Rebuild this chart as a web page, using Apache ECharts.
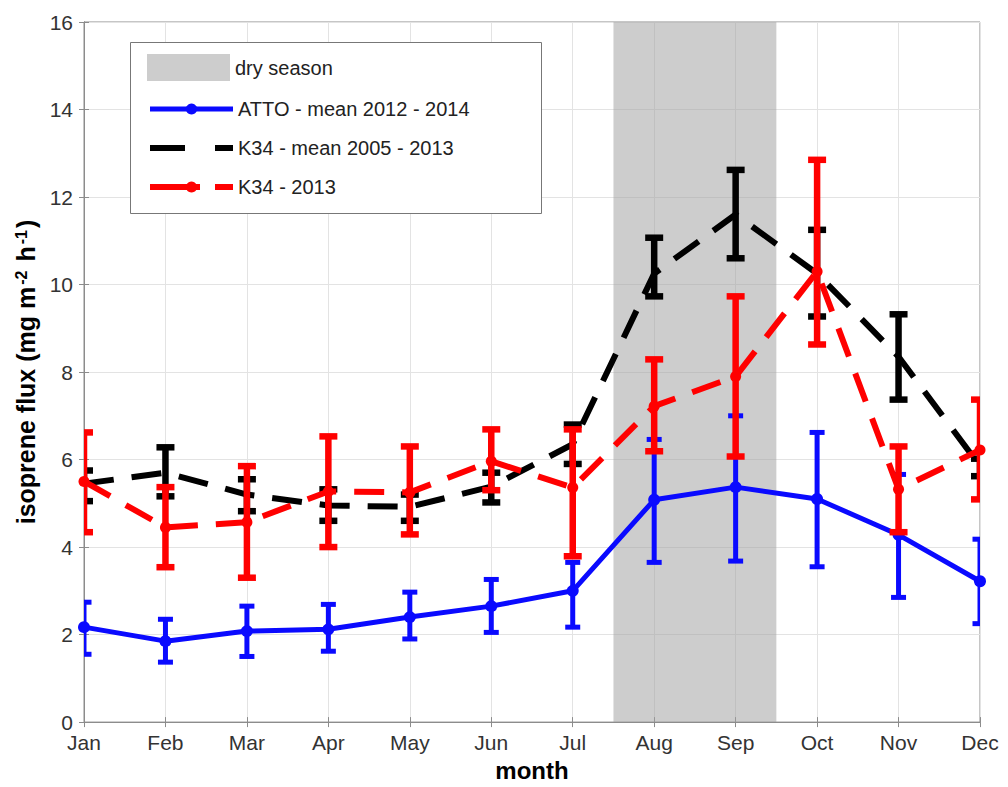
<!DOCTYPE html>
<html><head><meta charset="utf-8">
<script src="https://cdn.jsdelivr.net/npm/echarts@6/dist/echarts.min.js"></script>
<style>html,body{margin:0;padding:0;background:#fff}#c{width:1008px;height:787px}</style>
</head><body><div id="c"></div>
<script>
const months = ['Jan','Feb','Mar','Apr','May','Jun','Jul','Aug','Sep','Oct','Nov','Dec'];
const drySeason = [6.5, 8.5];

const attoMean = [2.17, 1.85, 2.08, 2.12, 2.40, 2.65, 3.00, 5.08, 5.37, 5.10, 4.28, 3.22];
const attoLow  = [1.55, 1.37, 1.50, 1.62, 1.90, 2.05, 2.17, 3.65, 3.68, 3.55, 2.85, 2.25];
const attoHigh = [2.74, 2.35, 2.65, 2.69, 2.97, 3.26, 3.65, 6.46, 7.00, 6.62, 5.66, 4.18];

const k34MeanVal  = [5.45, 5.70, 5.20, 4.95, 4.92, 5.38, 6.35, 10.25, 11.60, 10.25, 8.35, 5.85];
const k34MeanLow  = [5.05, 5.16, 4.82, 4.60, 4.60, 5.02, 5.90, 9.73, 10.60, 9.27, 7.37, 5.62];
const k34MeanHigh = [5.75, 6.28, 5.55, 5.32, 5.20, 5.70, 6.80, 11.07, 12.62, 11.25, 9.32, 6.02];

const k34y13Val  = [5.50, 4.45, 4.57, 5.27, 5.25, 5.96, 5.36, 7.22, 7.90, 10.30, 5.32, 6.22];
const k34y13Low  = [4.34, 3.54, 3.30, 4.00, 4.29, 5.30, 3.79, 6.19, 6.07, 8.63, 4.34, 5.09];
const k34y13High = [6.62, 5.37, 5.85, 6.53, 6.30, 6.69, 6.69, 8.29, 9.73, 12.85, 6.30, 7.37];

const names = {
  dry: 'dry season',
  atto: 'ATTO - mean 2012 - 2014',
  k34m: 'K34 - mean 2005 - 2013',
  k34y: 'K34 - 2013'
};

const toPts = arr => arr.map((v, i) => [i, v]);
const toErr = (lo, hi) => lo.map((v, i) => [i, v, hi[i]]);

function errSeries(id, lo, hi, color, width, capW, z) {
  return {
    type: 'custom', name: id, data: toErr(lo, hi), z: z, clip: true, silent: true,
    renderItem: function (params, api) {
      const x = api.value(0);
      const p1 = api.coord([x, api.value(1)]);
      const p2 = api.coord([x, api.value(2)]);
      const st = { stroke: color, lineWidth: width, fill: null };
      return { type: 'group', children: [
        { type: 'line', shape: { x1: p1[0], y1: p1[1], x2: p2[0], y2: p2[1] }, style: st },
        { type: 'line', shape: { x1: p1[0] - capW / 2, y1: p1[1], x2: p1[0] + capW / 2, y2: p1[1] }, style: st },
        { type: 'line', shape: { x1: p2[0] - capW / 2, y1: p2[1], x2: p2[0] + capW / 2, y2: p2[1] }, style: st }
      ]};
    }
  };
}

const chart = echarts.init(document.getElementById('c'), null, { renderer: 'svg' });
const axisGrey = '#8c8c8c';
const labelColor = '#333';
const font = 'Liberation Sans, Arial, Helvetica, sans-serif';
const BLUE = '#0a0aff', RED = '#ff0000', BLACK = '#000000';

const option = {
  animation: false,
  textStyle: { fontFamily: font },
  grid: { left: 84, right: 28, top: 22, bottom: 64, show: true, borderColor: axisGrey, borderWidth: 1 },
  xAxis: [{
    type: 'value', min: 0, max: 11, interval: 1,
    name: 'month', nameLocation: 'middle', nameGap: 34,
    nameTextStyle: { fontSize: 24, fontWeight: 'bold', color: '#000', fontFamily: font },
    axisLine: { show: true, lineStyle: { color: axisGrey } },
    axisTick: { show: true, inside: true, length: 5, lineStyle: { color: axisGrey } },
    axisLabel: { formatter: v => months[v], fontSize: 21, color: labelColor, margin: 10, fontFamily: font },
    splitLine: { show: true, lineStyle: { color: '#e3e3e3', width: 1 } }
  }, {
    type: 'value', min: 0, max: 11, interval: 1, position: 'top',
    axisLine: { show: true, lineStyle: { color: axisGrey } },
    axisTick: { show: true, inside: true, length: 5, lineStyle: { color: axisGrey } },
    axisLabel: { show: false }, splitLine: { show: false }
  }],
  yAxis: [{
    type: 'value', min: 0, max: 16, interval: 2,
    name: 'isoprene flux (mg m{sup|-2} h{sup|-1})', nameLocation: 'middle', nameGap: 35,
    nameTextStyle: { fontSize: 25, fontWeight: 'bold', color: '#000', fontFamily: font,
      rich: { sup: { fontSize: 16, fontWeight: 'bold', color: '#000', verticalAlign: 'top', fontFamily: font, padding: [0, 2, 10, 2] } } },
    axisLine: { show: true, lineStyle: { color: axisGrey } },
    axisTick: { show: true, inside: true, length: 5, lineStyle: { color: axisGrey } },
    axisLabel: { fontSize: 21, color: labelColor, margin: 11, fontFamily: font },
    splitLine: { show: true, lineStyle: { color: '#e3e3e3', width: 1 } }
  }, {
    type: 'value', min: 0, max: 16, interval: 2, position: 'right',
    axisLine: { show: true, lineStyle: { color: axisGrey } },
    axisTick: { show: true, inside: true, length: 5, lineStyle: { color: axisGrey } },
    axisLabel: { show: false }, splitLine: { show: false }
  }],
  graphic: [{
    type: 'rect', left: 130, top: 42, z: 10,
    shape: { width: 411, height: 171 },
    style: { fill: '#fff', stroke: '#777', lineWidth: 1 }
  }],
  legend: [{
    data: [{ name: names.dry, icon: 'rect' }],
    left: 142, top: 49, itemWidth: 83, itemHeight: 27, z: 11,
    selectedMode: false,
    textStyle: { fontSize: 20, color: '#222', fontFamily: font }
  }, {
    data: [
      { name: names.atto, lineStyle: { width: 5, type: 'solid', color: BLUE }, itemStyle: { color: BLUE } },
      { name: names.k34m, lineStyle: { width: 6, type: [35, 30], color: BLACK }, itemStyle: { color: BLACK, opacity: 0 } },
      { name: names.k34y, lineStyle: { width: 6, type: [50, 15], color: RED }, itemStyle: { color: RED } }
    ],
    orient: 'vertical', left: 142, top: 94, itemWidth: 83, itemHeight: 14, itemGap: 19, z: 11,
    selectedMode: false,
    textStyle: { fontSize: 20, color: '#222', fontFamily: font }
  }],
  series: [
    {
      type: 'custom', name: names.dry, data: [drySeason], z: 1, silent: true,
      itemStyle: { color: 'rgba(160,160,160,0.52)' },
      renderItem: function (params, api) {
        const a = api.coord([api.value(0), 16]);
        const b = api.coord([api.value(1), 0]);
        return { type: 'rect', shape: { x: a[0], y: a[1], width: b[0] - a[0], height: b[1] - a[1] },
          style: { fill: 'rgba(160,160,160,0.52)' } };
      }
    },
    errSeries('attoErr', attoLow, attoHigh, BLUE, 5, 15, 2),
    {
      type: 'line', name: names.atto, data: toPts(attoMean), z: 2,
      color: BLUE,
      lineStyle: { color: BLUE, width: 5 },
      itemStyle: { color: BLUE },
      symbol: 'circle', symbolSize: 12, showSymbol: true
    },
    errSeries('k34mErr', k34MeanLow, k34MeanHigh, BLACK, 6.5, 18, 3),
    {
      type: 'line', name: names.k34m, data: toPts(k34MeanVal), z: 3,
      color: BLACK,
      lineStyle: { color: BLACK, width: 6, type: [30, 18] },
      itemStyle: { color: BLACK },
      symbol: 'none'
    },
    errSeries('k34yErr', k34y13Low, k34y13High, RED, 6.5, 18, 4),
    {
      type: 'line', name: names.k34y, data: toPts(k34y13Val), z: 4,
      color: RED,
      lineStyle: { color: RED, width: 6, type: [30, 18] },
      itemStyle: { color: RED },
      symbol: 'circle', symbolSize: 11, showSymbol: true
    }
  ]
};
chart.setOption(option);
</script>
</body></html>
